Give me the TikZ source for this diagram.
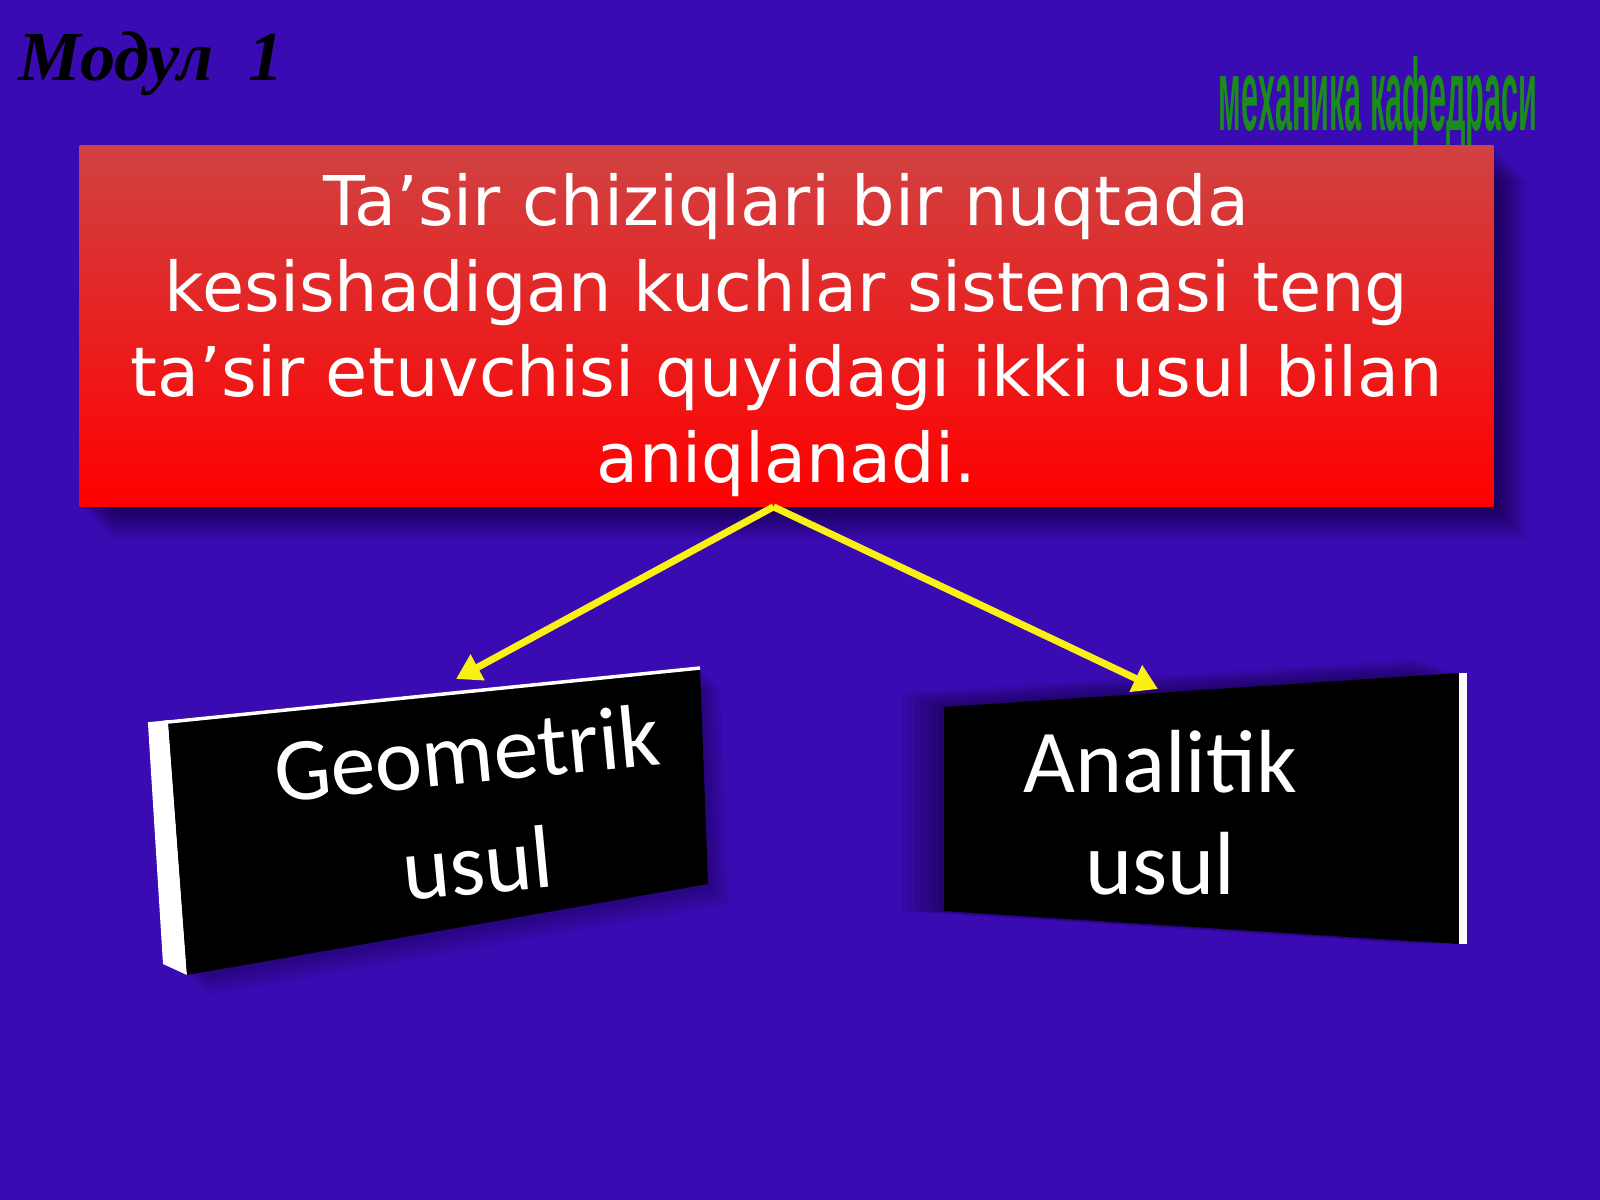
\documentclass[tikz,border=0pt]{standalone}
\usepackage{fontspec}
\setmainfont{DejaVu Sans}
\newfontfamily\titlefont{Liberation Serif}
\newfontfamily\platefont{Carlito}
\newfontfamily\deptfont{Liberation Sans}
\usetikzlibrary{arrows.meta,calc}
\definecolor{SlideBg}{RGB}{58,10,178}
\definecolor{RuleTop}{RGB}{208,66,66}
\definecolor{RuleBot}{RGB}{255,0,0}
\definecolor{DeptClr}{RGB}{26,140,26}
\definecolor{LinkClr}{RGB}{250,240,20}

\begin{document}
\begin{tikzpicture}[x=0.01cm,y=-0.01cm,
  rulebox/.style={top color=RuleTop,bottom color=RuleBot,draw=none,
    inner sep=0pt,minimum width=14.13cm,minimum height=3.6cm},
  ruletxt/.style={text=white,align=center,inner sep=0pt,
    font=\fontsize{19.5}{24.3}\selectfont},
  plate/.style={fill=black,draw=none},
  platetxt/.style={text=white,align=center,inner sep=0pt,
    font=\platefont\fontsize{25.5}{29}\selectfont},
  link/.style={draw=LinkClr,line width=2pt,-{Triangle[length=7pt,width=8pt]}}]

\fill[SlideBg] (0,0) rectangle (1600,1200);
\useasboundingbox (0,0) rectangle (1600,1200);

% heading
\node[anchor=base west,inner sep=0pt,
  font=\titlefont\bfseries\itshape\fontsize{20}{24}\selectfont] (modul) at (18,80) {Модул\ \ 1};
\node[text=DeptClr,inner sep=0pt,xscale=.30,
  font=\deptfont\bfseries\fontsize{29}{34}\selectfont] (dept) at (1378,104) {механика кафедраси};

% shadow of the red box
\foreach \d in {3,6,...,33}
  \fill[black,opacity=.05] (80+\d,146+\d) rectangle (1493+\d,506+\d);

\node[rulebox] (rule) at (786.5,326) {};
\node[ruletxt] (ruletext) at (786.5,335)
  {Ta’sir chiziqlari bir nuqtada\\
   kesishadigan kuchlar sistemasi teng\\
   ta’sir etuvchisi quyidagi ikki usul bilan\\
   aniqlanadi.};

% left plate
\foreach \d in {4,8,...,20}
  \fill[black,opacity=.06] (168+\d,720+\d) -- (700+\d,668+\d) -- (708+\d,884+\d) -- (187+\d,975+\d) -- cycle;
\fill[white] (148,724) -- (168,720) -- (187,975) -- (163,964) -- cycle;
\fill[plate] (168,720) -- (700,668) -- (708,884) -- (187,975) -- cycle;
\draw[white,line width=1pt] (148,724) -- (700,668);

% right plate
\foreach \d in {6,12,...,42}
  \fill[black,opacity=.06] (944-\d,707-\d/3) -- (1459-\d,673-\d/3) -- (1459-\d,944) -- (944-\d,911) -- cycle;
\fill[plate] (944,707) -- (1459,673) -- (1459,944) -- (944,911) -- cycle;
\fill[white] (1459,673) rectangle (1467,944);

\node[platetxt,rotate=5.5,font=\platefont\fontsize{25.5}{31.5}\selectfont] (geom) at (472,808) {Geometrik\\usul};
\node[platetxt] (anal) at (1160,813) {Analitik\\usul};

\coordinate (gtip) at (456,679);
\coordinate (atip) at (1158,689);
\draw[link] ([xshift=-0.13cm]rule.south) -- (gtip);
\draw[link] ([xshift=-0.13cm]rule.south) -- (atip);

\end{tikzpicture}
\end{document}
